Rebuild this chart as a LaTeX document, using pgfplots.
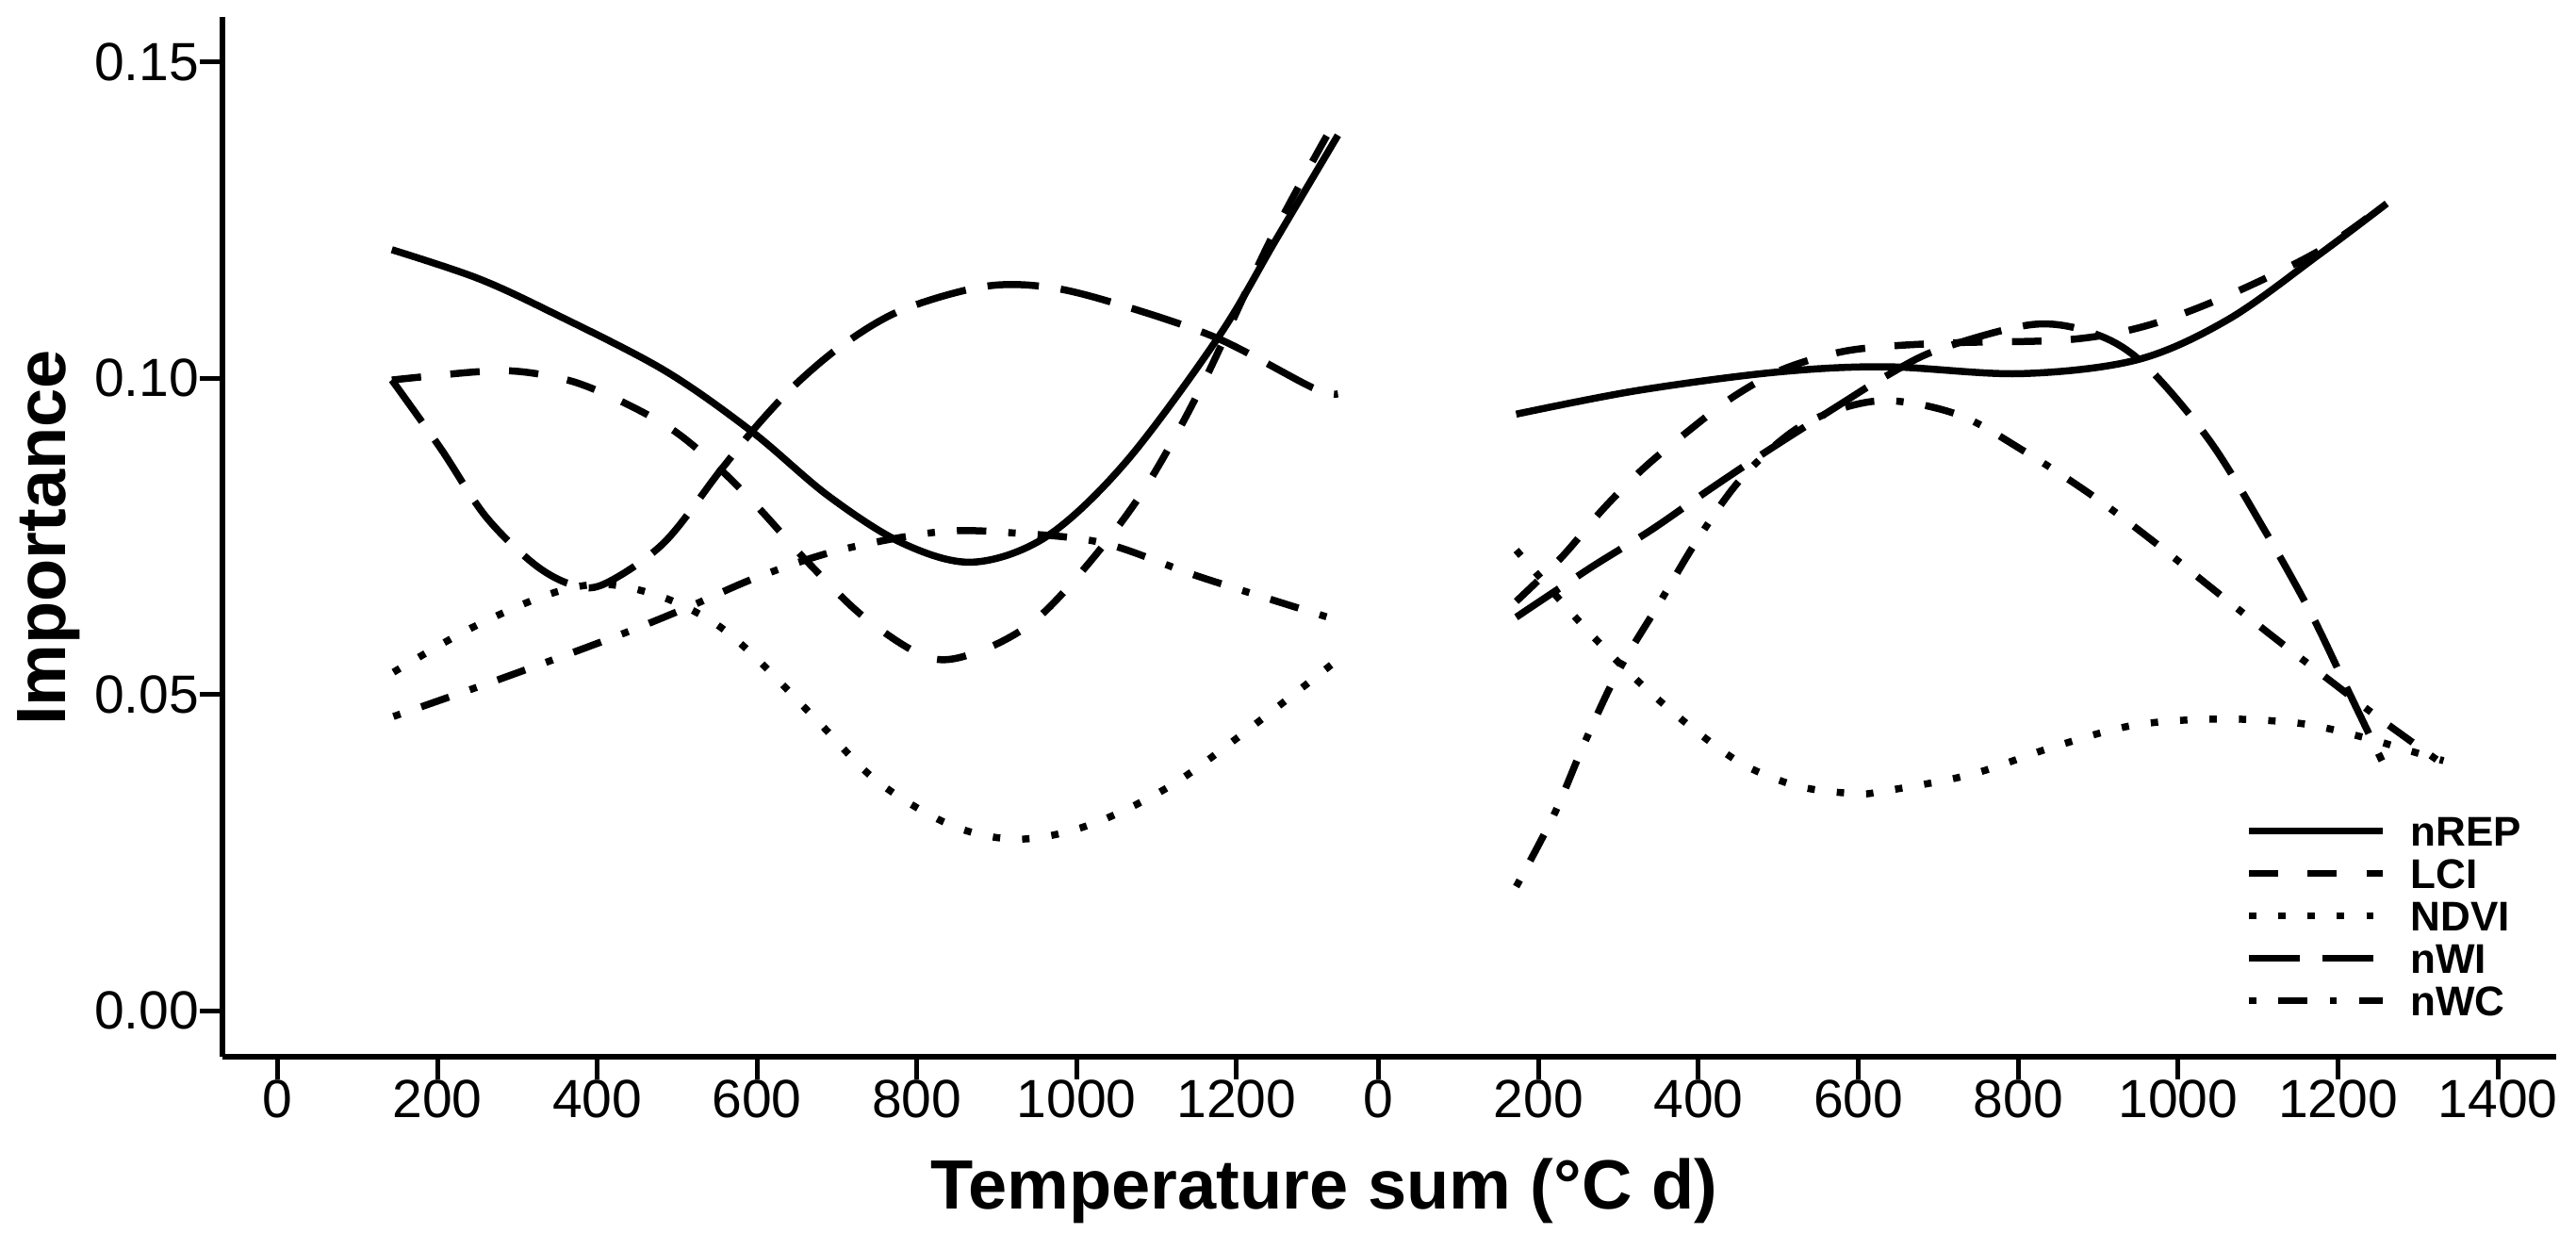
\documentclass[border=0pt]{standalone}
\usepackage{fontspec}
\setmainfont{Liberation Sans}
\usepackage{pgfplots}
\pgfplotsset{compat=1.18}
\begin{document}
\begin{tikzpicture}
\useasboundingbox (-47.2pt,-41pt) rectangle (499.4pt,224.2pt);
\pgfplotsset{
  base/.style={
    scale only axis, height=220.6pt,
    ymin=-0.0073, ymax=0.1571,
    axis line style={-, line width=1.3pt, black},
    tick align=outside, major tick length=4.8pt,
    tick style={black, line width=1pt},
    ticklabel style={font=\fontsize{11.4}{11.4}\selectfont, inner sep=0pt},
    /pgf/number format/assume math mode=true,
    /pgf/number format/set thousands separator={},
    clip=false,
  },
  every axis plot/.append style={line width=1.5pt, smooth, tension=0.55, black, mark=none},
  rep/.style={solid},
  lci/.style={dash pattern=on 6.24pt off 6.24pt},
  ndvi/.style={dash pattern=on 1.56pt off 4.68pt},
  nwi/.style={dash pattern=on 10.92pt off 4.68pt},
  nwc/.style={dash pattern=on 1.56pt off 4.68pt on 6.24pt off 4.68pt},
}
\begin{axis}[base, at={(0pt,0pt)}, anchor=south west, width=238.9pt,
  xmin=-69, xmax=1340, axis x line*=bottom, axis y line*=left,
  xtick={0,200,...,1200}, ytick={0,0.05,0.1,0.15},
  yticklabel style={/pgf/number format/.cd, fixed, fixed zerofill, precision=2}]
\addplot[rep] coordinates {(143,0.1203) (250,0.1158) (343,0.1104) (483,0.1013) (593,0.0916) (689,0.0814) (782,0.0739) (870,0.0709) (963,0.0750) (1062,0.0868) (1178,0.1066) (1250,0.1220) (1327,0.1384)};
\addplot[lci] coordinates {(143,0.0997) (250,0.1010) (306,0.1010) (371,0.0994) (437,0.0959) (497,0.0916) (553,0.0857) (604,0.0792) (665,0.0707) (736,0.0620) (815,0.0558) (876,0.0567) (946,0.0615) (1015,0.0707) (1085,0.0825) (1156,0.0986) (1244,0.1222) (1325,0.1410)};
\addplot[ndvi] coordinates {(145,0.0535) (241,0.0604) (339,0.0658) (408,0.0674) (479,0.0655) (544,0.0615) (596,0.0561) (675,0.0459) (750,0.0363) (843,0.0293) (927,0.0271) (1015,0.0293) (1113,0.0352) (1202,0.0432) (1327,0.0555)};
\addplot[nwi] coordinates {(143,0.0997) (204,0.0889) (260,0.0782) (320,0.0707) (367,0.0674) (408,0.0674) (483,0.0739) (553,0.0852) (600,0.0925) (650,0.0992) (710,0.1055) (782,0.1108) (885,0.1145) (969,0.1143) (1062,0.1113) (1178,0.1062) (1295,0.0985) (1327,0.0975)};
\addplot[nwc] coordinates {(145,0.0465) (278,0.0524) (422,0.0591) (516,0.0639) (600,0.0685) (703,0.0728) (829,0.0757) (923,0.0755) (1034,0.0739) (1156,0.0685) (1327,0.0617)};
\end{axis}
\begin{axis}[base, at={(238.9pt,0pt)}, anchor=south west, width=256.3pt,
  xmin=-38, xmax=1473, axis x line*=bottom, axis y line=none,
  xtick={0,200,...,1400},
  legend cell align=left,
  legend image code/.code={\draw[#1] (0pt,0pt) -- (28.4pt,0pt);},
  legend style={at={(axis description cs:0.7417,0.2321)}, anchor=north west,
    draw=none, fill=none, inner sep=0pt, row sep=2.7pt, column sep=5.2pt,
    font=\bfseries\fontsize{8.8}{8.8}\selectfont,
    nodes={inner sep=0pt, text height=6.3pt, text depth=0pt}}]
\addplot[rep] coordinates {(172,0.0943) (322,0.0980) (494,0.1009) (633,0.1018) (802,0.1007) (949,0.1029) (1063,0.1093) (1176,0.1195) (1261,0.1276)};
\addlegendentry{nREP}
\addplot[lci] coordinates {(172,0.0647) (229,0.0717) (280,0.0792) (331,0.0857) (387,0.0916) (443,0.0970) (504,0.1013) (573,0.1040) (633,0.1050) (723,0.1056) (865,0.1061) (961,0.1083) (1063,0.1131) (1176,0.1201) (1255,0.1271)};
\addlegendentry{LCI}
\addplot[ndvi] coordinates {(172,0.0728) (243,0.0626) (294,0.0558) (345,0.0497) (401,0.0438) (459,0.0387) (527,0.0354) (597,0.0343) (632,0.0347) (740,0.0373) (842,0.0416) (944,0.0451) (1051,0.0461) (1153,0.0454) (1232,0.0432) (1289,0.0411) (1332,0.0395)};
\addlegendentry{NDVI}
\addplot[nwi] coordinates {(172,0.0622) (266,0.0701) (341,0.0760) (415,0.0825) (485,0.0884) (578,0.0959) (633,0.1002) (700,0.1045) (820,0.1085) (900,0.1068) (961,0.1018) (1040,0.0900) (1108,0.0760) (1165,0.0631) (1210,0.0513) (1255,0.0395)};
\addlegendentry{nWI}
\addplot[nwc] coordinates {(172,0.0196) (219,0.0309) (257,0.0422) (299,0.0535) (350,0.0642) (401,0.0749) (457,0.0846) (532,0.0927) (625,0.0964) (723,0.0943) (808,0.0884) (893,0.0814) (972,0.0739) (1046,0.0664) (1122,0.0588) (1199,0.0513) (1255,0.0459) (1332,0.0389)};
\addlegendentry{nWC}
\end{axis}
\node[font=\bfseries\fontsize{14.8}{14.8}\selectfont, anchor=base] at (233.8pt,-32.4pt) {Temperature sum (°C d)};
\node[font=\bfseries\fontsize{14.8}{14.8}\selectfont, anchor=base, rotate=90] at (-33.2pt,110.1pt) {Importance};
\end{tikzpicture}
\end{document}
